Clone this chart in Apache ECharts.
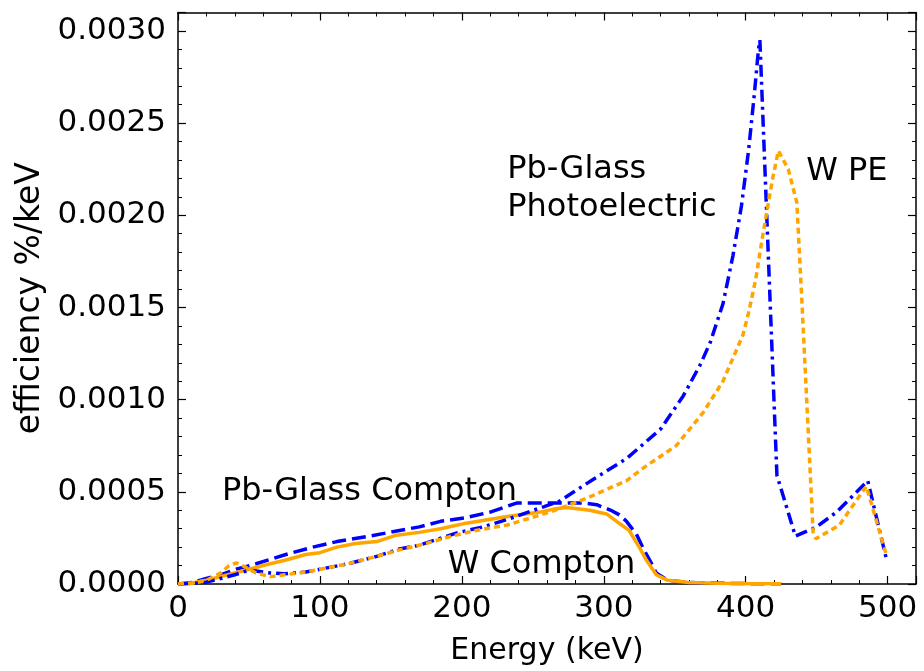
<!DOCTYPE html>
<html>
<head>
<meta charset="utf-8">
<script src="https://cdn.jsdelivr.net/npm/echarts@6/dist/echarts.min.js"></script>
<style>
  html, body { margin: 0; padding: 0; background: #fff; }
  #efficiencyChart { width: 924px; height: 671px; }
</style>
</head>
<body>
<div id="efficiencyChart"></div>
<script>
  // Pb-Glass Compton (blue dashed)
  var energyPbCompton = [0, 10, 20, 30, 41, 55, 76, 95, 112, 135, 156, 170, 185, 203, 220, 239, 255, 270, 285, 295, 305, 311, 316, 323, 328, 333, 337, 345, 360, 380, 400, 425];
  var effPbCompton = [0, 0.000008, 0.00003, 0.00005, 0.00008, 0.00011, 0.00016, 0.0002, 0.00023, 0.00026, 0.00029, 0.00031, 0.00034, 0.00036, 0.00039, 0.00044, 0.00044, 0.00044, 0.00044, 0.00043, 0.0004, 0.000375, 0.00034, 0.00027, 0.00019, 0.00012, 0.00006, 0.00002, 0.000008, 0.000004, 0.000002, 0.000001];

  // W Compton (orange solid)
  var energyWCompton = [0, 10, 20, 30, 40, 50, 60, 76, 90, 100, 112, 125, 140, 154, 170, 185, 203, 232, 255, 267, 274, 290, 302, 309, 318, 321, 325, 330, 337, 345, 360, 380, 400, 425];
  var effWCompton = [0, 0.000005, 0.00002, 0.00004, 0.00006, 0.00008, 0.0001, 0.00013, 0.00016, 0.00017, 0.0002, 0.00022, 0.00023, 0.000265, 0.00028, 0.0003, 0.00033, 0.000366, 0.00039, 0.00041, 0.000415, 0.0004, 0.00038, 0.00034, 0.00029, 0.00025, 0.0002, 0.00013, 0.00005, 0.00002, 0.000008, 0.000004, 0.000002, 0.000001];

  // Pb-Glass photoelectric (blue dash-dot)
  var energyPbPE = [0, 10, 20, 30, 40, 50, 55, 65, 75, 90, 100, 120, 140, 156, 170, 196, 215, 232, 258, 269, 279, 293, 316, 340, 356, 368, 375, 384, 391, 397, 402, 406, 409, 410, 422, 435, 450, 464, 477, 486, 499];
  var effPbPE = [0, 0.000003, 0.00001, 0.00003, 0.00005, 0.000075, 0.00007, 0.00006, 0.000055, 0.000065, 0.00008, 0.00011, 0.00015, 0.00019, 0.00021, 0.000276, 0.00031, 0.00035, 0.00042, 0.00045, 0.0005, 0.00057, 0.00068, 0.00084, 0.00102, 0.00119, 0.00131, 0.00152, 0.00178, 0.00205, 0.00235, 0.00265, 0.0029, 0.00295, 0.00059, 0.00026, 0.00031, 0.00039, 0.00049, 0.00056, 0.00014];

  // W photoelectric (orange dotted)
  var energyWPE = [0, 10, 20, 30, 36, 41, 48, 55, 65, 75, 90, 100, 120, 140, 156, 175, 192, 210, 232, 262, 276, 288, 304, 316, 328, 351, 370, 384, 398, 402, 407, 412, 419, 423, 430, 436, 439.5, 447.5, 449.5, 466, 485, 499];
  var effWPE = [0, 0.000005, 0.00002, 0.00006, 0.0001, 0.000115, 0.00009, 0.00006, 0.00004, 0.00005, 0.000065, 0.00008, 0.00011, 0.00015, 0.000185, 0.00022, 0.000258, 0.00029, 0.00032, 0.00039, 0.00043, 0.000465, 0.00052, 0.00056, 0.00063, 0.00075, 0.00093, 0.0011, 0.00135, 0.00147, 0.00165, 0.00189, 0.0022, 0.00235, 0.00225, 0.00207, 0.00155, 0.00028, 0.000245, 0.00032, 0.00053, 0.00016];

  // text notes, placed in data coordinates
  var noteTexts = ['Pb-Glass\nPhotoelectric', 'W PE', 'Pb-Glass Compton', 'W Compton'];
  var noteX = [232, 442.6, 31, 190];
  var noteY = [0.002146, 0.002238, 0.000503, 0.000103];

  var FONT = 'DejaVu Sans';
  var BLUE = '#0000ff';
  var ORANGE = '#ffa500';

  function pairs(xs, ys) {
    return xs.map(function (x, i) { return [x, ys[i]]; });
  }

  function lineSeries(name, xs, ys, color, dash, width) {
    return {
      name: name,
      type: 'line',
      showSymbol: false,
      symbol: 'none',
      smooth: false,
      lineStyle: { color: color, width: width, type: dash },
      data: pairs(xs, ys)
    };
  }

  function frameX(pos, showLabels) {
    return {
      type: 'value',
      position: pos,
      min: 0,
      max: 520,
      interval: 100,
      axisLine: { show: true, onZero: false, lineStyle: { color: '#000', width: 1.5 } },
      axisTick: { show: true, inside: true, length: 8, lineStyle: { color: '#000', width: 1.2 } },
      minorTick: { show: true, splitNumber: 5, length: 4, lineStyle: { color: '#000', width: 1 } },
      splitLine: { show: false },
      axisLabel: {
        show: showLabels, color: '#000', fontFamily: FONT, fontSize: 31, margin: 9,
        showMaxLabel: false
      },
      name: showLabels ? 'Energy (keV)' : '',
      nameLocation: 'middle',
      nameGap: 52,
      nameTextStyle: { color: '#000', fontFamily: FONT, fontSize: 30 }
    };
  }

  function frameY(pos, showLabels) {
    return {
      type: 'value',
      position: pos,
      min: 0,
      max: 0.0031,
      interval: 0.0005,
      axisLine: { show: true, onZero: false, lineStyle: { color: '#000', width: 1.5 } },
      axisTick: { show: true, inside: true, length: 8, lineStyle: { color: '#000', width: 1.2 } },
      minorTick: { show: true, splitNumber: 5, length: 4, lineStyle: { color: '#000', width: 1 } },
      splitLine: { show: false },
      axisLabel: {
        show: showLabels, color: '#000', fontFamily: FONT, fontSize: 31, margin: 12,
        showMaxLabel: false,
        formatter: function (v) { return v.toFixed(4); }
      },
      name: showLabels ? 'efficiency %/keV' : '',
      nameLocation: 'middle',
      nameRotate: 90,
      nameGap: 128,
      nameTextStyle: { color: '#000', fontFamily: FONT, fontSize: 33 }
    };
  }

  var chart = echarts.init(document.getElementById('efficiencyChart'), null, { renderer: 'canvas' });

  var option = {
    animation: false,
    backgroundColor: '#fff',
    grid: { left: 178, top: 12.5, width: 738, height: 573.5, containLabel: false },
    xAxis: [frameX('bottom', true), frameX('top', false)],
    yAxis: [frameY('left', true), frameY('right', false)],
    series: [
      lineSeries('Pb-Glass Compton', energyPbCompton, effPbCompton, BLUE, [14, 6], 3.5),
      lineSeries('W Compton', energyWCompton, effWCompton, ORANGE, 'solid', 3.5),
      lineSeries('Pb-Glass Photoelectric', energyPbPE, effPbPE, BLUE, [12, 5, 3, 5], 3.5),
      lineSeries('W PE', energyWPE, effWPE, ORANGE, [6, 4], 3.5)
    ]
  };
  chart.setOption(option);

  var notes = noteTexts.map(function (t, i) {
    var p = chart.convertToPixel({ gridIndex: 0 }, [noteX[i], noteY[i]]);
    return {
      type: 'text',
      x: p[0],
      y: p[1],
      style: {
        text: t,
        fill: '#000',
        fontFamily: FONT,
        fontSize: 32,
        lineHeight: 38,
        align: 'left',
        verticalAlign: 'middle'
      }
    };
  });
  chart.setOption({ graphic: notes });
</script>
</body>
</html>
